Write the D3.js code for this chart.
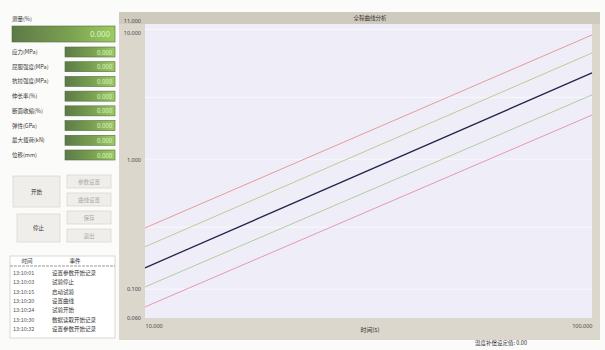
<!DOCTYPE html>
<html>
<head>
<meta charset="utf-8">
<script src="https://cdn.jsdelivr.net/npm/d3@7"></script>
<style>
  body { margin: 0; background: #fbfbf9; }
  svg { display: block; font-family: "Noto Sans CJK SC", "Noto Sans", sans-serif; }
</style>
</head>
<body>
<figure id="graph1" style="margin:0"></figure>
<script>
// chart data
const xValues = [10, 100];
const upperLimit = [0.296, 9.06];
const upperWarn = [0.212, 6.58];
const measured = [0.146, 4.62];
const lowerWarn = [0.104, 3.13];
const lowerLimit = [0.073, 2.19];
const yTicks = [0.06, 0.1, 1, 10, 11];
const xTicks = [10, 100];

// left panel texts
const topLabel = '测量(%)';
const topValue = '0.000';
const rowLabels = ['应力(MPa)', '屈服强度(MPa)', '抗拉强度(MPa)', '伸长率(%)', '断面收缩(%)', '弹性(GPa)', '最大载荷(kN)', '位移(mm)'];
const rowValues = ['0.000', '0.000', '0.000', '0.000', '0.000', '0.000', '0.000', '0.000'];
const logTimes = ['13:10:01', '13:10:03', '13:10:15', '13:10:20', '13:10:24', '13:10:30', '13:10:32'];
const logEvents = ['设置参数开始记录', '试验停止', '启动试验', '设置曲线', '试验开始', '数据读取开始记录', '设置参数开始记录'];

const width = 605;
const height = 350;

const svg = d3.select('figure#graph1')
  .append('svg')
  .attr('width', width)
  .attr('height', height);

const defs = svg.append('defs');
const grad = defs.append('linearGradient').attr('id', 'lcd');
grad.append('stop').attr('offset', '0%').attr('stop-color', '#5c7a48');
grad.append('stop').attr('offset', '55%').attr('stop-color', '#7aa050');
grad.append('stop').attr('offset', '100%').attr('stop-color', '#9ccc62');

// ---- left panel ----
const left = svg.append('g').style('font-size', '5.5px').attr('fill', '#333');

left.append('text').attr('x', 12).attr('y', 21).text(topLabel);
left.append('rect')
  .attr('x', 12).attr('y', 26).attr('width', 103).attr('height', 16)
  .attr('fill', 'url(#lcd)').attr('stroke', '#556b45').attr('stroke-width', 0.6);
left.append('text')
  .attr('x', 110).attr('y', 37).attr('text-anchor', 'end')
  .attr('fill', '#dff5c8').style('font-size', '8px')
  .text(topValue);

const rowY = d3.scaleLinear().domain([0, rowLabels.length - 1]).range([47, 150]);
rowLabels.forEach((label, i) => {
  left.append('text').attr('x', 12).attr('y', rowY(i) + 7).text(label);
  left.append('rect')
    .attr('x', 65).attr('y', rowY(i)).attr('width', 50).attr('height', 10)
    .attr('fill', 'url(#lcd)').attr('stroke', '#556b45').attr('stroke-width', 0.6);
  left.append('text')
    .attr('x', 112).attr('y', rowY(i) + 7.5).attr('text-anchor', 'end')
    .attr('fill', '#dff5c8').style('font-size', '6px')
    .text(rowValues[i]);
});

// buttons
const buttons = [
  { x: 13, y: 176, w: 47, h: 31, t: '开始' },
  { x: 67, y: 175, w: 44, h: 13, t: '参数设置' },
  { x: 67, y: 193, w: 44, h: 13, t: '曲线设置' },
  { x: 17, y: 214, w: 43, h: 28, t: '停止' },
  { x: 67, y: 211, w: 44, h: 13, t: '保存' },
  { x: 67, y: 229, w: 44, h: 13, t: '退出' }
];
buttons.forEach(b => {
  left.append('rect')
    .attr('x', b.x).attr('y', b.y).attr('width', b.w).attr('height', b.h)
    .attr('fill', '#efeeea').attr('stroke', '#d6d4cf').attr('stroke-width', 0.7);
  left.append('text')
    .attr('x', b.x + b.w / 2).attr('y', b.y + b.h / 2 + 2)
    .attr('text-anchor', 'middle')
    .attr('fill', b.h > 20 ? '#333' : '#aaa')
    .text(b.t);
});

// event log table
left.append('rect')
  .attr('x', 10).attr('y', 256).attr('width', 105).attr('height', 82)
  .attr('fill', '#fff').attr('stroke', '#c8c8c8').attr('stroke-width', 0.7);
left.append('text').attr('x', 27).attr('y', 263).attr('text-anchor', 'middle').text('时间');
left.append('text').attr('x', 75).attr('y', 263).attr('text-anchor', 'middle').text('事件');
left.append('line')
  .attr('x1', 10).attr('x2', 115).attr('y1', 266).attr('y2', 266)
  .attr('stroke', '#555').attr('stroke-width', 0.6).attr('stroke-dasharray', '3,1');

const logY = d3.scaleLinear().domain([0, logTimes.length - 1]).range([275, 331]);
logTimes.forEach((t, i) => {
  left.append('text').attr('x', 13).attr('y', logY(i)).attr('fill', '#555').text(t);
  left.append('text').attr('x', 52).attr('y', logY(i)).text(logEvents[i]);
});

// ---- chart panel ----
const panel = svg.append('g');
panel.append('rect')
  .attr('x', 119).attr('y', 12).attr('width', 481).attr('height', 328)
  .attr('fill', '#dcd7cc');
panel.append('rect')
  .attr('x', 119).attr('y', 12).attr('width', 481).attr('height', 12)
  .attr('fill', '#cfcabe');
panel.append('text')
  .attr('x', 370).attr('y', 20).attr('text-anchor', 'middle')
  .style('font-size', '5.5px').attr('fill', '#333')
  .text('全程曲线分析');

const plot = { left: 145, right: 592, top: 24, bottom: 318 };

panel.append('rect')
  .attr('x', plot.left).attr('y', plot.top)
  .attr('width', plot.right - plot.left).attr('height', plot.bottom - plot.top)
  .attr('fill', '#efeef8');

const x = d3.scaleLog().domain([10, 100]).range([plot.left, plot.right]);
const y = d3.scaleLog().domain([0.06, 11]).range([plot.bottom, plot.top]);

// faint grid
panel.append('g')
  .attr('stroke', '#fbfbff').attr('stroke-width', 0.8)
  .selectAll('line')
  .data([0.1, 0.3, 1, 3, 10])
  .join('line')
  .attr('x1', plot.left).attr('x2', plot.right)
  .attr('y1', d => y(d)).attr('y2', d => y(d));

const yAxis = panel.append('g')
  .attr('transform', `translate(${plot.left},0)`)
  .call(d3.axisLeft(y).tickValues(yTicks).tickSize(0).tickPadding(4).tickFormat(d3.format('.3f')));
yAxis.select('.domain').remove();
yAxis.selectAll('text').style('font-size', '5.5px').attr('fill', '#444')
  .style('font-family', '"Noto Sans", sans-serif')
  .attr('dy', d => d === 11 ? '-0.2em' : d === 10 ? '0.9em' : '0.32em');

const xAxis = panel.append('g')
  .attr('transform', `translate(0,${plot.bottom})`)
  .call(d3.axisBottom(x).tickValues(xTicks).tickSize(0).tickPadding(6).tickFormat(d3.format('.3f')));
xAxis.select('.domain').remove();
xAxis.selectAll('text').style('font-size', '5.5px').attr('fill', '#444')
  .style('font-family', '"Noto Sans", sans-serif')
  .attr('text-anchor', (d, i) => i === 0 ? 'start' : 'end');

panel.append('text')
  .attr('x', 370).attr('y', 332).attr('text-anchor', 'middle')
  .style('font-size', '6px').attr('fill', '#333')
  .text('时间(s)');

const series = [
  { v: upperLimit, c: '#e89a9a', w: 1 },
  { v: upperWarn, c: '#c4c894', w: 1 },
  { v: measured, c: '#22264a', w: 1.3 },
  { v: lowerWarn, c: '#b2cc9e', w: 1 },
  { v: lowerLimit, c: '#e896b2', w: 1 }
];

const line = d3.line()
  .x(d => x(d[0]))
  .y(d => y(d[1]));

panel.append('g')
  .attr('fill', 'none')
  .selectAll('path')
  .data(series)
  .join('path')
  .attr('stroke', d => d.c)
  .attr('stroke-width', d => d.w)
  .attr('d', d => line(xValues.map((xv, i) => [xv, d.v[i]])));

svg.append('text')
  .attr('x', 475).attr('y', 345)
  .style('font-size', '5.5px').attr('fill', '#333')
  .text('温度补偿设定值: 0.00');
</script>
</body>
</html>
